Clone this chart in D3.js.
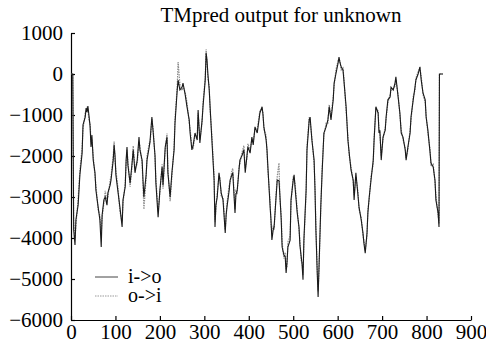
<!DOCTYPE html>
<html>
<head>
<meta charset="utf-8">
<script src="https://cdn.jsdelivr.net/npm/d3@7"></script>
<style>
  body { margin: 0; background: #fff; }
  text { font-family: "Liberation Serif", "Times New Roman", serif; }
</style>
</head>
<body>
<svg id="chart" width="486" height="342"></svg>
<script>
// residue positions (shared by both series)
let positions = [
  0,4,6,9,11,16,20,25,27,32,
  34,36,38,41,43,45,47,50,54,56,
  61,65,68,70,74,77,81,83,88,90,
  95,97,99,101,106,110,115,117,122,124,
  126,128,133,137,140,144,149,153,155,160,
  162,164,169,171,176,178,182,185,189,191,
  196,200,205,207,212,216,218,223,227,232,
  234,239,241,245,250,252,257,261,266,268,
  272,275,279,284,286,290,295,297,302,304,
  306,308,311,313,317,322,324,326,329,333,
  335,338,342,344,347,349,351,356,358,362,
  364,369,371,374,378,380,385,389,392,396,
  398,403,407,410,414,419,423,425,430,432,
  434,439,441,443,448,450,452,455,457,461,
  464,468,470,473,475,479,482,484,486,488,
  493,495,500,502,504,509,513,515,518,520,
  522,524,529,531,536,538,542,547,549,551,
  554,556,558,562,565,569,574,578,581,585,
  590,592,596,601,603,605,608,612,614,619,
  623,626,630,635,637,641,646,648,653,657,
  659,662,666,668,671,675,680,682,686,691,
  693,695,698,702,707,709,713,718,720,725,
  729,731,736,740,743,747,752,754,758,763,
  765,770,774,776,781,785,788,792,797,799,
  803,808,810,815,819,821,826,828,829,837
];

let inToOut = [
  0,0,-3800,-4170,-3560,-3200,-2460,-1930,-1240,-1050,
  -830,-930,-780,-1070,-1290,-1780,-1490,-2100,-2410,-2830,
  -3240,-3560,-4220,-3440,-3070,-3000,-3200,-2900,-2710,-2590,
  -2100,-1730,-1980,-2460,-2900,-3240,-3730,-3070,-2750,-2100,
  -1780,-2220,-2660,-2220,-1850,-2410,-2100,-1540,-1850,-2100,
  -2590,-3000,-2460,-2100,-1780,-1610,-1050,-1440,-1980,-2660,
  -3490,-2830,-2270,-2710,-1780,-1540,-2410,-3000,-2410,-1850,
  -1200,-390,-150,-390,-320,-220,-510,-800,-1120,-1440,
  -1850,-1730,-1440,-1610,-880,-1680,-1120,-800,-150,510,
  340,0,-390,-800,-1610,-2590,-3730,-3200,-3000,-2410,
  -2590,-2900,-3070,-3390,-3880,-3440,-3240,-2830,-2590,-2460,
  -2410,-3390,-2950,-2830,-2340,-2100,-1980,-1850,-2410,-1980,
  -1780,-1930,-1540,-1730,-1290,-1440,-1120,-950,-800,-1000,
  -1290,-1610,-1850,-2270,-3240,-3560,-4050,-3800,-3730,-3070,
  -2590,-2600,-2950,-3560,-4220,-4410,-4460,-4850,-4590,-4220,
  -4050,-3070,-2590,-2460,-2750,-3390,-3730,-4170,-4460,-4660,
  -5020,-4050,-2830,-1850,-1120,-1050,-1610,-2100,-2830,-3800,
  -4850,-5440,-4710,-3240,-2410,-1440,-1290,-1120,-800,-1120,
  -630,-220,0,270,410,290,170,100,-150,-800,
  -1610,-1930,-2340,-2590,-3070,-2410,-3000,-3240,-3560,-3880,
  -4120,-4370,-3880,-3390,-3000,-2590,-2100,-1610,-800,-950,
  -1440,-1370,-2100,-1540,-1370,-1050,-630,-560,-320,-390,
  -220,-70,-560,-950,-1440,-1540,-1850,-2100,-1780,-1440,
  -1050,-630,-320,-150,0,170,-150,-460,-630,-1050,
  -1370,-1930,-2170,-2270,-2590,-3070,-3390,-3730,0,0
];

let outToIn = [
  0,0,-3600,-4000,-3700,-3050,-2350,-1800,-1350,-950,
  -900,-800,-880,-1150,-1200,-1650,-1600,-2000,-2500,-2700,
  -3300,-3450,-3900,-3500,-3150,-2850,-3100,-3000,-2600,-2500,
  -2000,-1650,-2100,-2350,-2800,-3350,-3600,-3150,-2650,-2200,
  -1850,-2100,-2750,-2300,-1750,-2300,-2200,-1650,-1750,-2200,
  -2700,-3300,-2550,-2000,-1700,-1700,-1100,-1350,-2050,-2550,
  -3350,-2900,-2200,-2800,-1850,-1450,-2300,-3100,-2500,-1750,
  -1100,-300,290,-250,-400,-300,-450,-700,-1200,-1350,
  -1750,-1800,-1500,-1500,-950,-1600,-1200,-700,-100,600,
  250,-100,-300,-900,-1500,-2500,-3600,-3300,-2900,-2500,
  -2500,-3000,-3000,-3300,-3800,-3500,-3150,-2700,-2650,-2350,
  -2300,-3300,-2850,-2900,-2250,-2200,-1900,-1750,-2300,-2050,
  -1700,-1850,-1600,-1650,-1350,-1350,-1050,-900,-850,-950,
  -1350,-1500,-1900,-2350,-3100,-3650,-3900,-3700,-3800,-3000,
  -2500,-2170,-3050,-3450,-4100,-4500,-4350,-4750,-4700,-4100,
  -3950,-3150,-2500,-2550,-2650,-3300,-3800,-4050,-4550,-4600,
  -4900,-4150,-2900,-1750,-1050,-1150,-1550,-2200,-2750,-3700,
  -4750,-5300,-4800,-3300,-2300,-1500,-1200,-1200,-750,-1050,
  -550,-300,100,330,350,320,100,150,-100,-900,
  -1500,-2000,-2250,-2650,-2950,-2500,-2900,-3300,-3500,-3950,
  -4050,-4300,-3950,-3300,-3050,-2500,-2200,-1550,-850,-900,
  -1350,-1450,-2000,-1600,-1300,-1100,-700,-500,-400,-350,
  -300,-150,-500,-1000,-1350,-1600,-1800,-2050,-1850,-1350,
  -1150,-550,-400,-100,50,150,-50,-500,-700,-1000,
  -1450,-1850,-2250,-2200,-2650,-2950,-3450,-3650,0,0
];

let xTicks = [0,100,200,300,400,500,600,700,800,900];
let yTicks = [1000,0,-1000,-2000,-3000,-4000,-5000,-6000];
let seriesNames = ["i->o", "o->i"];

let serif = '"Liberation Serif", "Times New Roman", serif';
let svg = d3.select('#chart');

let x = d3.scaleLinear().domain([0, 900]).range([71, 471]);
let y = d3.scaleLinear().domain([-6000, 1000]).range([320, 33]);

svg.append("text")
    .attr("x", 281)
    .attr("y", 22)
    .attr("text-anchor", "middle")
    .style("font-family", serif)
    .style("font-size", "21px")
    .text("TMpred output for unknown");

let xAxis = svg.append("g")
    .attr("transform", "translate(0,320)")
    .call(d3.axisBottom(x).tickValues(xTicks).tickFormat(d3.format("d"))
        .tickSizeInner(-4).tickSizeOuter(0).tickPadding(5));

let yAxis = svg.append("g")
    .attr("transform", "translate(71,0)")
    .call(d3.axisLeft(y).tickValues(yTicks).tickFormat(d3.format("d"))
        .tickSizeInner(-4).tickSizeOuter(0).tickPadding(8));

[xAxis, yAxis].forEach(function (g) {
    g.attr("font-family", serif).attr("font-size", 21);
    g.select(".domain").attr("stroke", "#000").attr("stroke-width", 1.2);
    g.selectAll(".tick line").attr("stroke", "#000").attr("stroke-width", 1.2);
    g.selectAll(".tick text")
        .attr("fill", "#000")
        .style("font-family", serif)
        .style("font-size", "21px");
});
xAxis.selectAll(".tick text").attr("dy", "0.68em");

let line = d3.line()
    .x((d, i) => x(positions[i]))
    .y((d) => y(d));

svg.append("path")
    .datum(outToIn)
    .attr("fill", "none")
    .attr("stroke", "#8a8a8a")
    .attr("stroke-width", 1.2)
    .attr("stroke-dasharray", "1.5,1")
    .attr("d", line);

svg.append("path")
    .datum(inToOut)
    .attr("fill", "none")
    .attr("stroke", "#1a1a1a")
    .attr("stroke-width", 1.1)
    .attr("d", line);

// legend
let legend = svg.append("g");
seriesNames.forEach(function (name, i) {
    let ly = 277 + i * 19;
    legend.append("line")
        .attr("x1", 95).attr("x2", 118)
        .attr("y1", ly).attr("y2", ly)
        .attr("stroke", i == 0 ? "#444" : "#999")
        .attr("stroke-width", 1)
        .attr("stroke-dasharray", i == 0 ? null : "1.5,1");
    legend.append("text")
        .attr("x", 128)
        .attr("y", ly)
        .attr("dy", "0.32em")
        .style("font-family", serif)
        .style("font-size", "20px")
        .text(name);
});
</script>
</body>
</html>
